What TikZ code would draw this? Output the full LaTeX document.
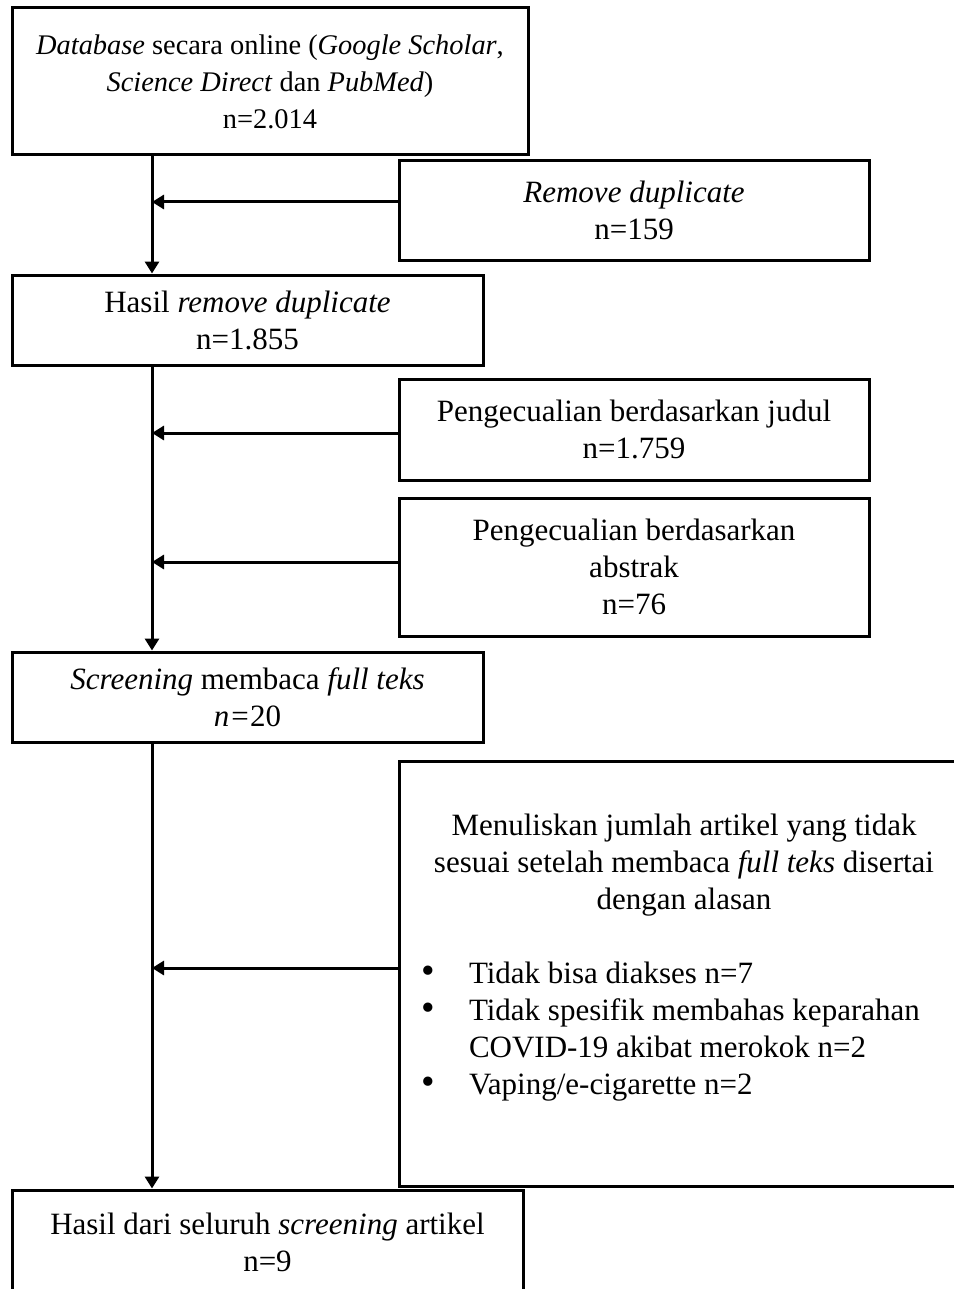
\documentclass[tikz,border=0pt]{standalone}
\usepackage{fontspec}
\setmainfont{Liberation Serif}
\usepackage{enumitem}
\usetikzlibrary{arrows.meta}
\tikzset{
  box/.style={draw, line width=1.5pt, inner sep=0pt, align=center,
    font=\fontsize{15.5}{18.5}\selectfont},
  arr/.style={-{Triangle[length=6pt,width=7pt]}, line width=1.5pt}
}
\begin{document}
\begin{tikzpicture}[x=0.5pt,y=-0.5pt]
\useasboundingbox (0,0) rectangle (953,1289);
\coordinate (spine) at (152,0);
% main column
\node[box, font=\fontsize{14.2}{18.5}\selectfont, minimum width=258pt, minimum height=73.5pt] (db) at (270,81.5)
  {\textit{Database} secara online (\textit{Google Scholar},\\ \textit{Science Direct} dan \textit{PubMed})\\ n=2.014};
\node[box, minimum width=235.5pt, minimum height=45pt] (hasil) at (247.5,320)
  {Hasil \textit{remove duplicate}\\ n=1.855};
\node[box, minimum width=235.5pt, minimum height=45pt] (screen) at (247.5,697)
  {\textit{Screening} membaca \textit{full teks}\\ \textit{n=}20};
\node[box, minimum width=255.5pt, minimum height=52.5pt] (akhir) at (267.5,1242.5)
  {Hasil dari seluruh \textit{screening} artikel\\ n=9};
% exclusions
\node[box, minimum width=235pt, minimum height=49.5pt] (dup) at (634,210.5)
  {\textit{Remove duplicate}\\ n=159};
\node[box, minimum width=235pt, minimum height=50.5pt] (judul) at (634,429.5)
  {Pengecualian berdasarkan judul\\ n=1.759};
\node[box, minimum width=235pt, minimum height=69pt] (abstrak) at (634,567)
  {Pengecualian berdasarkan\\ abstrak\\ n=76};
\node[box, minimum width=285pt, minimum height=212.5pt] (alasan) at (684,973.5)
  {\begin{minipage}{271pt}\centering
   Menuliskan jumlah artikel yang tidak\\ sesuai setelah membaca \textit{full teks} disertai\\ dengan alasan\par
   \vspace{18.5pt}\raggedright
   \begin{itemize}[label=\scalebox{1.25}{\textbullet},leftmargin=28pt,labelsep=17pt,itemsep=0pt,topsep=0pt,parsep=0pt,partopsep=0pt]
   \item Tidak bisa diakses n=7
   \item Tidak spesifik membahas keparahan\newline COVID-19 akibat merokok n=2
   \item Vaping/e-cigarette n=2
   \end{itemize}\vspace{16pt}
   \end{minipage}};
% arrows
\draw[arr] (db.south -| spine) -- (hasil.north -| spine);
\draw[arr] (hasil.south -| spine) -- (screen.north -| spine);
\draw[arr] (screen.south -| spine) -- (akhir.north -| spine);
\foreach \n/\s in {dup/4.25,judul/-1.75,abstrak/2.5,alasan/2.75}
  \draw[arr] ([yshift=\s pt]\n.west) -- ([yshift=\s pt]\n.west -| spine);
\end{tikzpicture}
\end{document}
